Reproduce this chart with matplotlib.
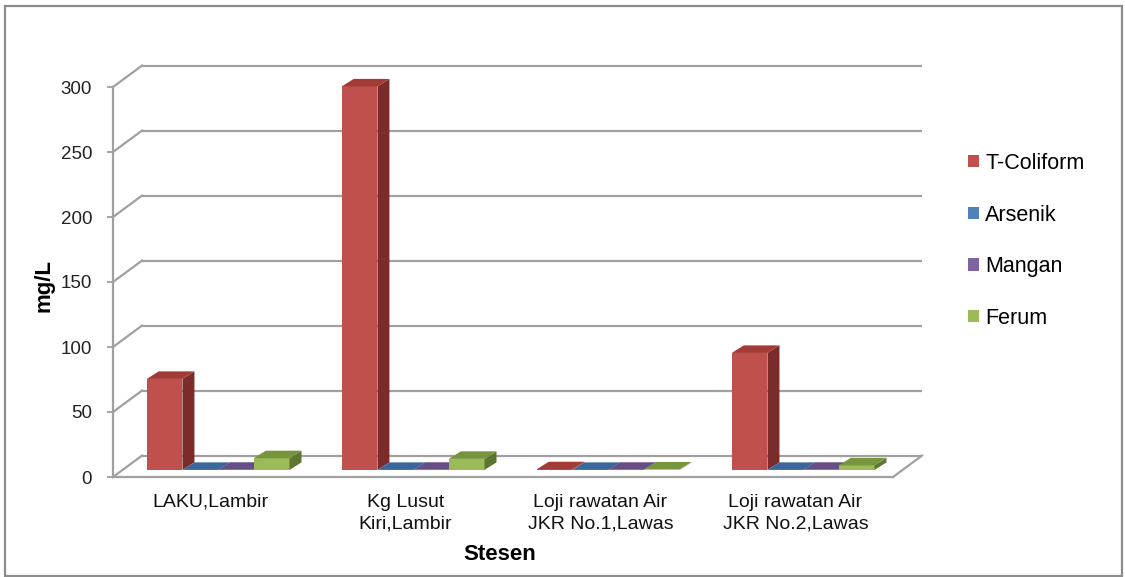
import matplotlib
matplotlib.use("Agg")
import matplotlib.pyplot as plt
from matplotlib.patches import Polygon, Rectangle
import numpy as np

plt.rcParams['font.family'] = ['Liberation Sans', 'DejaVu Sans']

# ---- data -------------------------------------------------------------
stations = ["LAKU,Lambir", "Kg Lusut\nKiri,Lambir",
            "Loji rawatan Air\nJKR No.1,Lawas", "Loji rawatan Air\nJKR No.2,Lawas"]
series_names = ["T-Coliform", "Arsenik", "Mangan", "Ferum"]
t_coliform = [70, 295, 0.5, 90]
arsenik = [0.01, 0.01, 0.01, 0.01]
mangan = [0.1, 0.1, 0.1, 0.1]
ferum = [9, 8.5, 0.3, 3.5]
y_ticks = [0, 50, 100, 150, 200, 250, 300]

series_values = [t_coliform, arsenik, mangan, ferum]
# front / top / side shades for each series
front_cols = ["#C0504D", "#4F81BD", "#8064A2", "#9BBB59"]
top_cols = ["#A23A36", "#3A679B", "#664F87", "#77953D"]
side_cols = ["#7B2C2A", "#2E4F78", "#4E3C66", "#5E7530"]

# ---- figure / axes ----------------------------------------------------
W, H = 1125, 577
fig = plt.figure(figsize=(W / 100, H / 100), dpi=100)
fig.patch.set_facecolor("white")

ax = fig.add_axes([113 / W, 100 / H, 780 / W, 390 / H])
ax.set_xlim(-0.5, 3.5)
ax.set_ylim(0, 300)
ax.patch.set_visible(False)

# depth of the 3-D box (category units, value units)
DX, DY = 0.149, 16.5
grid_col = "#A0A0A0"
glw = 1.6

# back wall gridlines and left wall diagonals
for v in y_ticks:
    ax.plot([-0.5 + DX, 3.5 + DX], [v + DY, v + DY], color=grid_col,
            lw=glw, clip_on=False, zorder=1, solid_capstyle="butt")
    ax.plot([-0.5, -0.5 + DX], [v, v + DY], color=grid_col,
            lw=glw, clip_on=False, zorder=1)
# floor right edge
ax.plot([3.5, 3.5 + DX], [0, DY], color=grid_col, lw=glw,
        clip_on=False, zorder=1)

# ---- 3-D columns ------------------------------------------------------
n_series = len(series_values)
bar_w = 0.183
group_w = bar_w * n_series
F = 0.33                 # depth position of the column fronts
BDX, BDY = 0.0615, 5.8   # column depth
x = np.arange(len(stations))
base = F * DY

handles = []
for j, vals in enumerate(series_values):
    lefts = x - group_w / 2 + j * bar_w + F * DX - 0.01
    z = 3 + j
    bars = ax.bar(lefts, vals, bar_w, bottom=base, align="edge",
                  color=front_cols[j], linewidth=0, zorder=z, clip_on=False,
                  label=series_names[j])
    handles.append(bars)
    for xl, v in zip(lefts, vals):
        xr = xl + bar_w
        yb, yt = base, base + v
        side = Polygon([(xr, yb), (xr, yt), (xr + BDX, yt + BDY), (xr + BDX, yb + BDY)],
                       closed=True, facecolor=side_cols[j], edgecolor="none",
                       zorder=z, clip_on=False)
        top = Polygon([(xl, yt), (xr, yt), (xr + BDX, yt + BDY), (xl + BDX, yt + BDY)],
                      closed=True, facecolor=top_cols[j], edgecolor="none",
                      zorder=z, clip_on=False)
        ax.add_patch(side)
        ax.add_patch(top)

# ---- axes, ticks, labels ----------------------------------------------
for s in ["top", "right"]:
    ax.spines[s].set_visible(False)
ax.spines["left"].set_color(grid_col)
ax.spines["left"].set_linewidth(glw)
ax.spines["bottom"].set_color(grid_col)
ax.spines["bottom"].set_linewidth(glw)

ax.set_yticks(y_ticks)
ax.set_yticklabels([str(v) for v in y_ticks])
ax.tick_params(axis="y", direction="out", length=4, width=1.3, color=grid_col,
               pad=11, labelsize=13.5, labelcolor="#222222")
ax.set_xticks(x)
ax.set_xticklabels(stations, linespacing=1.35)
ax.tick_params(axis="x", length=0, pad=12, labelsize=14, labelcolor="#111111")

ax.set_ylabel("mg/L", fontsize=16, fontweight="bold", va="center")
ax.yaxis.set_label_coords(-0.088, 0.49)
ax.set_xlabel("Stesen", fontsize=16, fontweight="bold", va="center")
ax.xaxis.set_label_coords(0.496, -0.198)

# ---- legend -----------------------------------------------------------
fig.legend(handles, series_names, loc="upper left",
           bbox_to_anchor=(968 / W, (H - 153) / H), frameon=False,
           fontsize=15.5, handlelength=0.5, handleheight=0.5,
           handletextpad=0.3, labelspacing=1.42, borderpad=0,
           borderaxespad=0)

# chart border
fig.patches.append(Rectangle((5 / W, 1 - 576 / H), 1117 / W, 570 / H,
                             transform=fig.transFigure, fill=False,
                             edgecolor="#8C8C8C", linewidth=1.6))

fig.savefig("out.png", dpi=100, facecolor="white")
